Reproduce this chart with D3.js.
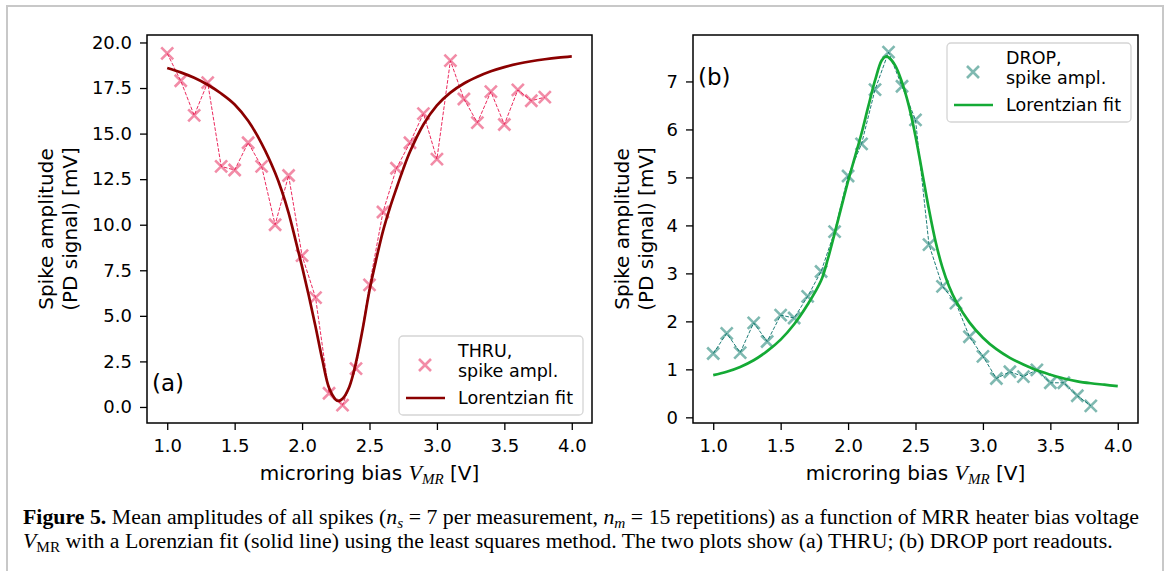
<!DOCTYPE html>
<html>
<head>
<meta charset="utf-8">
<style>
body { margin: 0; background: #fff; }
svg { display: block; font-family: 'DejaVu Sans', sans-serif; }
.axis .domain { display: none; }
.axis line { stroke: #000; stroke-width: 1.3; }
.axis text { font-family: 'DejaVu Sans', sans-serif; font-size: 18px; fill: #000; }
</style>
</head>
<body>
<svg width="1167" height="571"></svg>
<script src="https://cdn.jsdelivr.net/npm/d3@7"></script>
<script>
// microring bias voltage of each measurement [V]
var biasV = [1.0, 1.1, 1.2, 1.3, 1.4, 1.5, 1.6, 1.7, 1.8, 1.9,
             2.0, 2.1, 2.2, 2.3, 2.4, 2.5, 2.6, 2.7, 2.8, 2.9,
             3.0, 3.1, 3.2, 3.3, 3.4, 3.5, 3.6, 3.7, 3.8];

// mean spike amplitude, THRU port [mV]
var thruAmp = [19.4, 17.9, 16.0, 17.8, 13.2, 13.0, 14.5, 13.2, 10.0, 12.7,
               8.3, 6.0, 0.75, 0.1, 2.1, 6.7, 10.7, 13.1, 14.5, 16.1,
               13.6, 19.0, 16.9, 15.6, 17.3, 15.5, 17.4, 16.8, 17.0];

// mean spike amplitude, DROP port [mV]
var dropAmp = [1.33, 1.75, 1.35, 1.97, 1.58, 2.13, 2.07, 2.52, 3.04, 3.87,
               5.03, 5.70, 6.83, 7.61, 6.90, 6.20, 3.60, 2.73, 2.38, 1.68,
               1.27, 0.81, 0.95, 0.85, 0.99, 0.72, 0.72, 0.45, 0.24];

// lorentzian fit curves
var fitBiasA = [1.0, 1.1, 1.2, 1.3, 1.4, 1.5, 1.6, 1.7, 1.8, 1.85, 1.9, 1.95,
                2.0, 2.05, 2.1, 2.15, 2.2, 2.25, 2.27, 2.3, 2.35, 2.4, 2.45,
                2.5, 2.55, 2.6, 2.65, 2.7, 2.75, 2.8, 2.9, 3.0, 3.1, 3.2,
                3.3, 3.4, 3.5, 3.6, 3.7, 3.8, 3.9, 4.0];
var thruFit = [18.6, 18.36, 18.06, 17.68, 17.2, 16.6, 15.7, 14.45, 12.85, 11.85, 10.65, 9.2,
               7.7, 6.1, 4.4, 2.6, 1.05, 0.4, 0.33, 0.45, 1.1, 2.45, 4.3,
               6.4, 8.1, 9.65, 10.9, 12.0, 13.05, 14.0, 15.5, 16.55, 17.25, 17.75,
               18.12, 18.42, 18.65, 18.83, 18.97, 19.08, 19.17, 19.24];

var fitBiasB = [1.0, 1.1, 1.2, 1.3, 1.4, 1.5, 1.6, 1.7, 1.8, 1.85, 1.9, 1.95,
                2.0, 2.05, 2.1, 2.15, 2.2, 2.25, 2.28, 2.3, 2.35, 2.4, 2.45,
                2.5, 2.55, 2.6, 2.65, 2.7, 2.75, 2.8, 2.9, 3.0, 3.1, 3.2,
                3.3, 3.4, 3.5, 3.6, 3.7, 3.8, 3.9, 4.0];
var dropFit = [0.88, 0.95, 1.05, 1.19, 1.38, 1.62, 1.94, 2.35, 2.85, 3.3, 3.83, 4.38,
               4.92, 5.42, 5.92, 6.48, 7.02, 7.44, 7.52, 7.5, 7.33, 6.98, 6.5,
               5.86, 5.1, 4.33, 3.65, 3.12, 2.72, 2.42, 1.98, 1.66, 1.42, 1.24,
               1.1, 0.98, 0.89, 0.81, 0.75, 0.71, 0.68, 0.65];

// tick values
var xTicks = [1.0, 1.5, 2.0, 2.5, 3.0, 3.5, 4.0];
var yTicksA = [0, 2.5, 5, 7.5, 10, 12.5, 15, 17.5, 20];
var yTicksB = [0, 1, 2, 3, 4, 5, 6, 7];

var svg = d3.select("svg");
var top_ = 35, bottom_ = 423;

// light frame round the figure
svg.append("rect")
    .attr("x", 7).attr("y", 6)
    .attr("width", 1156).attr("height", 620)
    .attr("fill", "none")
    .attr("stroke", "#c8c8c8")
    .attr("stroke-width", 2);

function drawPanel(p) {
  var x = d3.scaleLinear().domain([0.85, 4.15]).range([p.left, p.right]);
  var y = d3.scaleLinear().domain(p.yDomain).range([bottom_, top_]);
  var g = svg.append("g");

  // axes
  g.append("g")
      .attr("class", "axis")
      .attr("transform", "translate(0," + bottom_ + ")")
      .call(d3.axisBottom(x).tickValues(xTicks).tickFormat(d3.format(".1f"))
            .tickSize(7).tickPadding(9));
  g.append("g")
      .attr("class", "axis")
      .attr("transform", "translate(" + p.left + ",0)")
      .call(d3.axisLeft(y).tickValues(p.yTicks).tickFormat(p.yFormat)
            .tickSize(7).tickPadding(8));

  // measured points joined by a thin dashed line
  var pts = biasV.map(function(v, i) { return [v, p.amp[i]]; });
  g.append("path")
      .datum(pts)
      .attr("fill", "none")
      .attr("stroke", p.dashColor)
      .attr("stroke-width", 1)
      .attr("stroke-dasharray", "3.7,1.6")
      .attr("d", d3.line().x(function(d) { return x(d[0]); }).y(function(d) { return y(d[1]); }));

  g.append("g").selectAll("path")
      .data(pts)
      .enter().append("path")
      .attr("transform", function(d) { return "translate(" + x(d[0]) + "," + y(d[1]) + ")"; })
      .attr("d", "M-6,-6L6,6M-6,6L6,-6")
      .attr("stroke", p.markColor)
      .attr("stroke-opacity", 0.5)
      .attr("stroke-width", 2.6);

  // fit
  var fit = p.fitX.map(function(v, i) { return [v, p.fitY[i]]; });
  g.append("path")
      .datum(fit)
      .attr("fill", "none")
      .attr("stroke", p.fitColor)
      .attr("stroke-width", 2.7)
      .attr("d", d3.line().curve(d3.curveCatmullRom)
            .x(function(d) { return x(d[0]); }).y(function(d) { return y(d[1]); }));

  // frame
  g.append("rect")
      .attr("x", p.left).attr("y", top_)
      .attr("width", p.right - p.left).attr("height", bottom_ - top_)
      .attr("fill", "none")
      .attr("stroke", "#000")
      .attr("stroke-width", 1.5);

  // panel letter
  g.append("text")
      .attr("x", p.tag[1]).attr("y", p.tag[2])
      .attr("font-size", 23)
      .text(p.tag[0]);

  // y label, two lines
  var cy = (top_ + bottom_) / 2;
  ["Spike amplitude", "(PD signal) [mV]"].forEach(function(s, i) {
    g.append("text")
        .attr("transform", "translate(" + (p.ylab + i * 24) + "," + cy + ") rotate(-90)")
        .attr("text-anchor", "middle")
        .attr("font-size", 20)
        .text(s);
  });

  // x label with V_MR
  var xl = g.append("text")
      .attr("x", (p.left + p.right) / 2)
      .attr("y", 480)
      .attr("text-anchor", "middle")
      .attr("font-size", 20);
  xl.append("tspan").text("microring bias ");
  xl.append("tspan").attr("font-family", "'Liberation Serif', serif").attr("font-style", "italic").attr("font-size", 22).text("V");
  xl.append("tspan").attr("font-family", "'Liberation Serif', serif").attr("font-style", "italic").attr("font-size", 15).attr("dy", 4).text("MR");
  xl.append("tspan").attr("dy", -4).text(" [V]");

  // legend
  var lg = g.append("g").attr("transform", "translate(" + p.legend[0] + "," + p.legend[1] + ")");
  lg.append("rect")
      .attr("width", 184).attr("height", 79)
      .attr("rx", 4)
      .attr("fill", "#fff").attr("fill-opacity", 0.8)
      .attr("stroke", "#d5d5d5").attr("stroke-width", 1.3);
  lg.append("path")
      .attr("transform", "translate(26,29)")
      .attr("d", "M-6,-6L6,6M-6,6L6,-6")
      .attr("stroke", p.markColor).attr("stroke-opacity", 0.5).attr("stroke-width", 2.6);
  lg.append("line")
      .attr("x1", 7).attr("x2", 46).attr("y1", 62).attr("y2", 62)
      .attr("stroke", p.fitColor).attr("stroke-width", 2.7);
  var lt = lg.append("g").attr("font-size", 17.5);
  lt.append("text").attr("x", 59).attr("y", 21).text(p.name + ",");
  lt.append("text").attr("x", 59).attr("y", 41).text("spike ampl.");
  lt.append("text").attr("x", 59).attr("y", 68).text("Lorentzian fit");
}

drawPanel({
  left: 147, right: 592,
  yDomain: [-0.88, 20.41], yTicks: yTicksA, yFormat: d3.format(".1f"),
  amp: thruAmp, fitX: fitBiasA, fitY: thruFit,
  markColor: "#e61950", dashColor: "#ec2a5e", fitColor: "#8b0000",
  tag: ["(a)", 152, 391], ylab: 53, legend: [399, 336], name: "THRU"
});

drawPanel({
  left: 693, right: 1138,
  yDomain: [-0.118, 7.968], yTicks: yTicksB, yFormat: d3.format("d"),
  amp: dropAmp, fitX: fitBiasB, fitY: dropFit,
  markColor: "#007364", dashColor: "#1f7d78", fitColor: "#14aa35",
  tag: ["(b)", 698, 85], ylab: 629, legend: [947, 43], name: "DROP"
});

// caption
var capFont = "'Liberation Serif', 'Times New Roman', serif";
var cap1 = svg.append("text").attr("x", 23).attr("y", 524)
    .attr("font-family", capFont).attr("font-size", 17);
cap1.append("tspan").attr("font-weight", "bold").text("Figure 5.");
cap1.append("tspan").text(" Mean amplitudes of all spikes (");
cap1.append("tspan").attr("font-style", "italic").text("n");
cap1.append("tspan").attr("font-style", "italic").attr("font-size", "0.7em").attr("dy", 4).text("s");
cap1.append("tspan").attr("dy", -4).text(" = 7 per measurement, ");
cap1.append("tspan").attr("font-style", "italic").text("n");
cap1.append("tspan").attr("font-style", "italic").attr("font-size", "0.7em").attr("dy", 4).text("m");
cap1.append("tspan").attr("dy", -4).text(" = 15 repetitions) as a function of MRR heater bias voltage");

var cap2 = svg.append("text").attr("x", 23).attr("y", 548)
    .attr("font-family", capFont).attr("font-size", 17);
cap2.append("tspan").attr("font-style", "italic").text("V");
cap2.append("tspan").attr("font-size", "0.7em").attr("dy", 4).text("MR");
cap2.append("tspan").attr("dy", -4).text(" with a Lorenzian fit (solid line) using the least squares method. The two plots show (a) THRU; (b) DROP port readouts.");

// size the caption so the first line spans the text block
var w1 = cap1.node().getComputedTextLength();
var capSize = 17 * 1117 / w1;
cap1.attr("font-size", capSize);
cap2.attr("font-size", capSize);
</script>
</body>
</html>
